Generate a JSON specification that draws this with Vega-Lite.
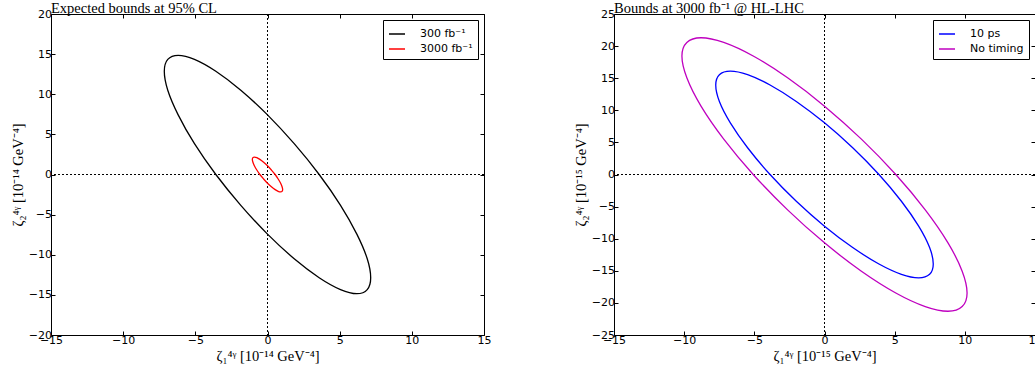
{
  "$schema": "https://vega.github.io/schema/vega-lite/v6.json",
  "background": "white",
  "padding": {"left": 9, "top": 0, "right": 0, "bottom": 0},
  "spacing": 80,
  "resolve": {"scale": {"color": "independent"}, "legend": {"color": "independent"}},
  "config": {
    "view": {"stroke": "black", "strokeWidth": 1},
    "axis": {"grid": false, "domain": false, "ticks": true, "tickColor": "black", "tickSize": -4, "tickWidth": 1, "labelFont": "DejaVu Sans", "labelFontSize": 11, "labelColor": "black", "labelPadding": 3.5, "labelFlush": false, "labelOverlap": false, "titleFont": "Liberation Serif", "titleFontSize": 14.5, "titleFontWeight": "normal", "titleColor": "black"},
    "legend": {"orient": "top-right", "title": null, "strokeColor": "black", "fillColor": "white", "padding": 5, "offset": 6, "labelFont": "DejaVu Sans", "labelFontSize": 11, "labelColor": "black", "symbolType": "stroke", "symbolSize": 256, "symbolStrokeWidth": 1.5, "labelOffset": 14, "rowPadding": 1, "cornerRadius": 0},
    "title": {"font": "Liberation Serif", "fontSize": 14.5, "fontWeight": "normal", "anchor": "start", "frame": "group", "offset": -8, "color": "black"}
  },
  "datasets": {
    "lhc": [
      {"series": "300 fb⁻¹", "k": 0, "x": 7.15, "y": -12.86},
      {"series": "300 fb⁻¹", "k": 1, "x": 6.91, "y": -14.34},
      {"series": "300 fb⁻¹", "k": 2, "x": 6.19, "y": -14.85},
      {"series": "300 fb⁻¹", "k": 3, "x": 5.06, "y": -14.34},
      {"series": "300 fb⁻¹", "k": 4, "x": 3.58, "y": -12.86},
      {"series": "300 fb⁻¹", "k": 5, "x": 1.85, "y": -10.50},
      {"series": "300 fb⁻¹", "k": 6, "x": 0, "y": -7.43},
      {"series": "300 fb⁻¹", "k": 7, "x": -1.85, "y": -3.84},
      {"series": "300 fb⁻¹", "k": 8, "x": -3.58, "y": 0},
      {"series": "300 fb⁻¹", "k": 9, "x": -5.06, "y": 3.84},
      {"series": "300 fb⁻¹", "k": 10, "x": -6.19, "y": 7.43},
      {"series": "300 fb⁻¹", "k": 11, "x": -6.91, "y": 10.50},
      {"series": "300 fb⁻¹", "k": 12, "x": -7.15, "y": 12.86},
      {"series": "300 fb⁻¹", "k": 13, "x": -6.91, "y": 14.34},
      {"series": "300 fb⁻¹", "k": 14, "x": -6.19, "y": 14.85},
      {"series": "300 fb⁻¹", "k": 15, "x": -5.06, "y": 14.34},
      {"series": "300 fb⁻¹", "k": 16, "x": -3.58, "y": 12.86},
      {"series": "300 fb⁻¹", "k": 17, "x": -1.85, "y": 10.50},
      {"series": "300 fb⁻¹", "k": 18, "x": 0, "y": 7.43},
      {"series": "300 fb⁻¹", "k": 19, "x": 1.85, "y": 3.84},
      {"series": "300 fb⁻¹", "k": 20, "x": 3.58, "y": 0},
      {"series": "300 fb⁻¹", "k": 21, "x": 5.06, "y": -3.84},
      {"series": "300 fb⁻¹", "k": 22, "x": 6.19, "y": -7.43},
      {"series": "300 fb⁻¹", "k": 23, "x": 6.91, "y": -10.50},
      {"series": "3000 fb⁻¹", "k": 0, "x": 1.05, "y": -1.88},
      {"series": "3000 fb⁻¹", "k": 1, "x": 1.01, "y": -2.10},
      {"series": "3000 fb⁻¹", "k": 2, "x": 0.91, "y": -2.17},
      {"series": "3000 fb⁻¹", "k": 3, "x": 0.74, "y": -2.10},
      {"series": "3000 fb⁻¹", "k": 4, "x": 0.53, "y": -1.88},
      {"series": "3000 fb⁻¹", "k": 5, "x": 0.27, "y": -1.53},
      {"series": "3000 fb⁻¹", "k": 6, "x": 0, "y": -1.09},
      {"series": "3000 fb⁻¹", "k": 7, "x": -0.27, "y": -0.56},
      {"series": "3000 fb⁻¹", "k": 8, "x": -0.53, "y": 0},
      {"series": "3000 fb⁻¹", "k": 9, "x": -0.74, "y": 0.56},
      {"series": "3000 fb⁻¹", "k": 10, "x": -0.91, "y": 1.09},
      {"series": "3000 fb⁻¹", "k": 11, "x": -1.01, "y": 1.53},
      {"series": "3000 fb⁻¹", "k": 12, "x": -1.05, "y": 1.88},
      {"series": "3000 fb⁻¹", "k": 13, "x": -1.01, "y": 2.10},
      {"series": "3000 fb⁻¹", "k": 14, "x": -0.91, "y": 2.17},
      {"series": "3000 fb⁻¹", "k": 15, "x": -0.74, "y": 2.10},
      {"series": "3000 fb⁻¹", "k": 16, "x": -0.53, "y": 1.88},
      {"series": "3000 fb⁻¹", "k": 17, "x": -0.27, "y": 1.53},
      {"series": "3000 fb⁻¹", "k": 18, "x": 0, "y": 1.09},
      {"series": "3000 fb⁻¹", "k": 19, "x": 0.27, "y": 0.56},
      {"series": "3000 fb⁻¹", "k": 20, "x": 0.53, "y": 0},
      {"series": "3000 fb⁻¹", "k": 21, "x": 0.74, "y": -0.56},
      {"series": "3000 fb⁻¹", "k": 22, "x": 0.91, "y": -1.09},
      {"series": "3000 fb⁻¹", "k": 23, "x": 1.01, "y": -1.53}
    ],
    "hl": [
      {"series": "10 ps", "k": 0, "x": 7.75, "y": -13.94},
      {"series": "10 ps", "k": 1, "x": 7.49, "y": -15.55},
      {"series": "10 ps", "k": 2, "x": 6.71, "y": -16.10},
      {"series": "10 ps", "k": 3, "x": 5.48, "y": -15.55},
      {"series": "10 ps", "k": 4, "x": 3.88, "y": -13.94},
      {"series": "10 ps", "k": 5, "x": 2.01, "y": -11.38},
      {"series": "10 ps", "k": 6, "x": 0, "y": -8.05},
      {"series": "10 ps", "k": 7, "x": -2.01, "y": -4.17},
      {"series": "10 ps", "k": 8, "x": -3.88, "y": 0},
      {"series": "10 ps", "k": 9, "x": -5.48, "y": 4.17},
      {"series": "10 ps", "k": 10, "x": -6.71, "y": 8.05},
      {"series": "10 ps", "k": 11, "x": -7.49, "y": 11.38},
      {"series": "10 ps", "k": 12, "x": -7.75, "y": 13.94},
      {"series": "10 ps", "k": 13, "x": -7.49, "y": 15.55},
      {"series": "10 ps", "k": 14, "x": -6.71, "y": 16.10},
      {"series": "10 ps", "k": 15, "x": -5.48, "y": 15.55},
      {"series": "10 ps", "k": 16, "x": -3.88, "y": 13.94},
      {"series": "10 ps", "k": 17, "x": -2.01, "y": 11.38},
      {"series": "10 ps", "k": 18, "x": 0, "y": 8.05},
      {"series": "10 ps", "k": 19, "x": 2.01, "y": 4.17},
      {"series": "10 ps", "k": 20, "x": 3.88, "y": 0},
      {"series": "10 ps", "k": 21, "x": 5.48, "y": -4.17},
      {"series": "10 ps", "k": 22, "x": 6.71, "y": -8.05},
      {"series": "10 ps", "k": 23, "x": 7.49, "y": -11.38},
      {"series": "No timing", "k": 0, "x": 10.16, "y": -18.45},
      {"series": "No timing", "k": 1, "x": 9.81, "y": -20.57},
      {"series": "No timing", "k": 2, "x": 8.80, "y": -21.30},
      {"series": "No timing", "k": 3, "x": 7.18, "y": -20.57},
      {"series": "No timing", "k": 4, "x": 5.08, "y": -18.45},
      {"series": "No timing", "k": 5, "x": 2.63, "y": -15.06},
      {"series": "No timing", "k": 6, "x": 0, "y": -10.65},
      {"series": "No timing", "k": 7, "x": -2.63, "y": -5.51},
      {"series": "No timing", "k": 8, "x": -5.08, "y": 0},
      {"series": "No timing", "k": 9, "x": -7.18, "y": 5.51},
      {"series": "No timing", "k": 10, "x": -8.80, "y": 10.65},
      {"series": "No timing", "k": 11, "x": -9.81, "y": 15.06},
      {"series": "No timing", "k": 12, "x": -10.16, "y": 18.45},
      {"series": "No timing", "k": 13, "x": -9.81, "y": 20.57},
      {"series": "No timing", "k": 14, "x": -8.80, "y": 21.30},
      {"series": "No timing", "k": 15, "x": -7.18, "y": 20.57},
      {"series": "No timing", "k": 16, "x": -5.08, "y": 18.45},
      {"series": "No timing", "k": 17, "x": -2.63, "y": 15.06},
      {"series": "No timing", "k": 18, "x": 0, "y": 10.65},
      {"series": "No timing", "k": 19, "x": 2.63, "y": 5.51},
      {"series": "No timing", "k": 20, "x": 5.08, "y": 0},
      {"series": "No timing", "k": 21, "x": 7.18, "y": -5.51},
      {"series": "No timing", "k": 22, "x": 8.80, "y": -10.65},
      {"series": "No timing", "k": 23, "x": 9.81, "y": -15.06}
    ]
  },
  "hconcat": [
    {
      "width": 433,
      "height": 321,
      "title": "Expected bounds at 95% CL",
      "resolve": {"axis": {"x": "independent", "y": "independent"}},
      "layer": [
        {
          "data": {"values": [{"zero": 0}]},
          "mark": {"type": "rule", "strokeDash": [2, 2], "color": "black", "strokeWidth": 1},
          "encoding": {"x": {"field": "zero", "type": "quantitative", "axis": {"orient": "top", "labels": false, "title": null, "values": [-15, -10, -5, 0, 5, 10, 15]}}}
        },
        {
          "data": {"values": [{"zero": 0}]},
          "mark": {"type": "rule", "strokeDash": [2, 2], "color": "black", "strokeWidth": 1},
          "encoding": {"y": {"field": "zero", "type": "quantitative", "axis": {"orient": "right", "labels": false, "title": null, "values": [-20, -15, -10, -5, 0, 5, 10, 15, 20]}}}
        },
        {
          "data": {"name": "lhc"},
          "mark": {"type": "line", "interpolate": "cardinal-closed", "strokeWidth": 1.3},
          "encoding": {
            "x": {"field": "x", "type": "quantitative", "scale": {"domain": [-15, 15], "nice": false, "zero": false}, "axis": {"orient": "bottom", "values": [-15, -10, -5, 0, 5, 10, 15], "title": "ζ₁⁴ᵞ  [10⁻¹⁴ GeV⁻⁴]", "titlePadding": 4}},
            "y": {"field": "y", "type": "quantitative", "scale": {"domain": [-20, 20], "nice": false, "zero": false}, "axis": {"orient": "left", "values": [-20, -15, -10, -5, 0, 5, 10, 15, 20], "title": "ζ₂⁴ᵞ  [10⁻¹⁴ GeV⁻⁴]", "titlePadding": 3}},
            "color": {"field": "series", "type": "nominal", "scale": {"domain": ["300 fb⁻¹", "3000 fb⁻¹"], "range": ["#000000", "#ff0000"]}},
            "order": {"field": "k", "type": "quantitative"}
          }
        }
      ]
    },
    {
      "width": 421,
      "height": 321,
      "title": "Bounds at 3000 fb⁻¹ @ HL-LHC",
      "resolve": {"axis": {"x": "independent", "y": "independent"}},
      "layer": [
        {
          "data": {"values": [{"zero": 0}]},
          "mark": {"type": "rule", "strokeDash": [2, 2], "color": "black", "strokeWidth": 1},
          "encoding": {"x": {"field": "zero", "type": "quantitative", "axis": {"orient": "top", "labels": false, "title": null, "values": [-15, -10, -5, 0, 5, 10, 15]}}}
        },
        {
          "data": {"values": [{"zero": 0}]},
          "mark": {"type": "rule", "strokeDash": [2, 2], "color": "black", "strokeWidth": 1},
          "encoding": {"y": {"field": "zero", "type": "quantitative", "axis": {"orient": "right", "labels": false, "title": null, "values": [-25, -20, -15, -10, -5, 0, 5, 10, 15, 20, 25]}}}
        },
        {
          "data": {"name": "hl"},
          "mark": {"type": "line", "interpolate": "cardinal-closed", "strokeWidth": 1.3},
          "encoding": {
            "x": {"field": "x", "type": "quantitative", "scale": {"domain": [-15, 15], "nice": false, "zero": false}, "axis": {"orient": "bottom", "values": [-15, -10, -5, 0, 5, 10, 15], "title": "ζ₁⁴ᵞ  [10⁻¹⁵ GeV⁻⁴]", "titlePadding": 4}},
            "y": {"field": "y", "type": "quantitative", "scale": {"domain": [-25, 25], "nice": false, "zero": false}, "axis": {"orient": "left", "values": [-25, -20, -15, -10, -5, 0, 5, 10, 15, 20, 25], "title": "ζ₂⁴ᵞ  [10⁻¹⁵ GeV⁻⁴]", "titlePadding": 3}},
            "color": {"field": "series", "type": "nominal", "scale": {"domain": ["10 ps", "No timing"], "range": ["#0000ff", "#bf00bf"]}},
            "order": {"field": "k", "type": "quantitative"}
          }
        }
      ]
    }
  ]
}
